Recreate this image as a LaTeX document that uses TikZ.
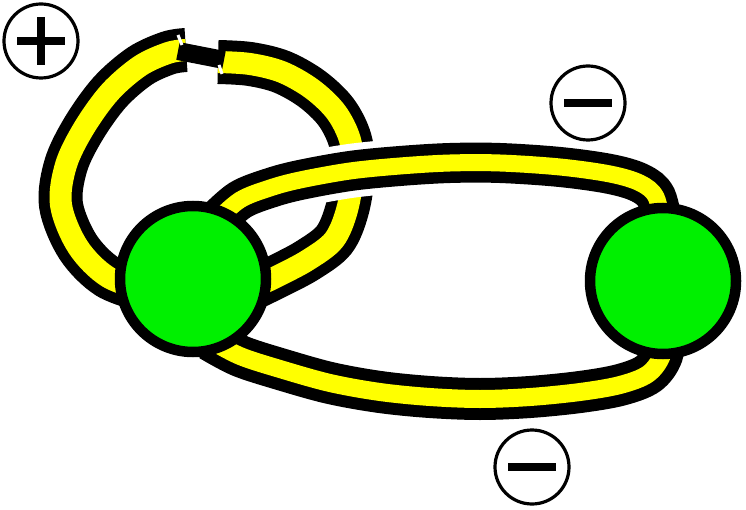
\documentclass[tikz,border=0pt]{standalone}
\usetikzlibrary{calc}
\definecolor{ballgreen}{RGB}{0,240,0}
\definecolor{tubeyellow}{RGB}{255,255,0}
\tikzset{
  ball/.style={circle, draw=black, line width=10.5pt, fill=ballgreen, inner sep=0pt, minimum size=146pt},
  signring/.style={circle, draw=black, line width=3.2pt, fill=white, inner sep=0pt, minimum size=74pt},
  looptube/.style={draw=black, line width=11pt, double=tubeyellow, double distance=22pt},
  toptube/.style={draw=black, line width=11.5pt, double=tubeyellow, double distance=17pt,
                  preaction={draw=white, line width=54pt}},
  bottube/.style={draw=black, line width=12pt, double=tubeyellow, double distance=18pt},
  signbar/.style={line width=7.5pt, draw=black}
}
\begin{document}
\begin{tikzpicture}[x=1pt,y=-1pt]
\useasboundingbox (0,0) rectangle (746,510);
% anchor coordinates of the two balls
\coordinate (Lc) at (193,279);
\coordinate (Rc) at (663,281);
% ---- left loop (drawn first, underneath) ----
\draw[looptube] plot[smooth, tension=0.55] coordinates
  {(150,292) (108,277) (78,247) (61,205) (66,165) (84,128) (110,92) (140,66) (168,53) (186,50)};
\draw[looptube] plot[smooth, tension=0.55] coordinates
  {(218,62) (250,64) (282,72) (312,89) (336,112) (350,140) (353,172) (347,210) (334,240) (308,260) (278,276) (245,292)};
% the joint at the top of the loop
\draw[black, line width=18pt] (178,51) -- (224,60);
\draw[white, line width=3pt] (178,35) -- (182,45);
\draw[white, line width=3pt] (219,65) -- (222,74);
% ---- bottom tube ----
\draw[bottube] plot[smooth, tension=0.55] coordinates
  {(210,340) (240,356) (280,369) (330,383) (380,392) (430,397) (480,399) (530,397) (580,392) (620,385) (648,374) (662,355) (664,330)};
% ---- top tube (passes over the loop) ----
\draw[toptube] plot[smooth, tension=0.55] coordinates
  {(215,222) (240,200) (270,188) (300,180) (350,171) (400,166) (450,163) (500,163) (560,167) (610,174) (640,183) (656,197) (663,228)};
% ---- balls ----
\node[ball] (L) at (Lc) {};
\node[ball] (R) at (Rc) {};
% ---- signs ----
\node[signring] (P) at (41,41) {};
\draw[signbar, line width=8pt] ($(P.center)+(-24,0)$) -- ($(P.center)+(24,0)$);
\draw[signbar, line width=8pt] ($(P.center)+(0,-24)$) -- ($(P.center)+(0,24)$);
\node[signring] (M1) at (588,103) {};
\draw[signbar] ($(M1.center)+(-24,0)$) -- ($(M1.center)+(24,0)$);
\node[signring] (M2) at (532,467) {};
\draw[signbar] ($(M2.center)+(-24,0)$) -- ($(M2.center)+(24,0)$);
\end{tikzpicture}
\end{document}
